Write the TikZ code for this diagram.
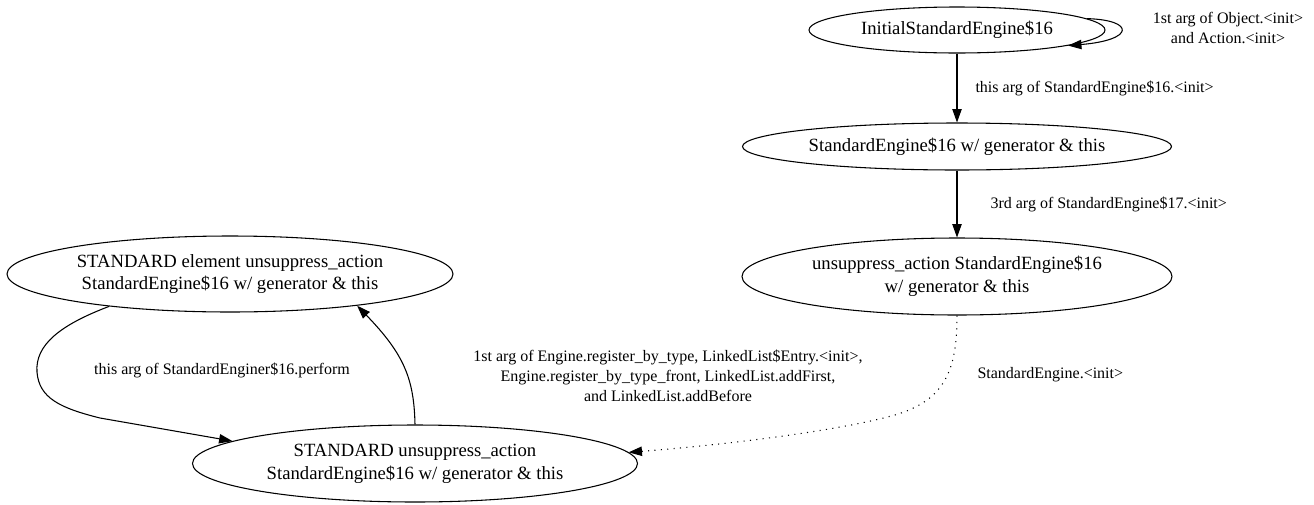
\documentclass[tikz,border=0pt]{standalone}
\usepackage{fontspec}
\setmainfont{Liberation Serif}
\usetikzlibrary{shapes.geometric,arrows.meta}

\begin{document}
\begin{tikzpicture}[x=0.75pt,y=-0.75pt,line width=0.8pt,>={Triangle[length=10pt,width=7pt]}]
	\tikzstyle{every node}+=[inner sep=0pt]
	\tikzstyle{state}=[draw,ellipse,align=center,font=\fontsize{14}{17}\selectfont]
	\tikzstyle{edgelabel}=[align=center,font=\fontsize{12}{15}\selectfont]
	\useasboundingbox (0,0) rectangle (1314,504);
	% states
	\node [state,minimum width=222pt,minimum height=34.5pt] (init) at (957,30) {InitialStandardEngine\$16};
	\node [state,minimum width=321.75pt,minimum height=35.25pt] (gen) at (957,146.5) {StandardEngine\$16 w/ generator \& this};
	\node [state,minimum width=322.5pt,minimum height=57.75pt] (act) at (957,276.5) {unsuppress\_action StandardEngine\$16\\w/ generator \& this};
	\node [state,minimum width=334.5pt,minimum height=57pt] (elem) at (230,274) {STANDARD element unsuppress\_action\\StandardEngine\$16 w/ generator \& this};
	\node [state,minimum width=333.75pt,minimum height=57.75pt] (std) at (415,463.5) {STANDARD unsuppress\_action\\StandardEngine\$16 w/ generator \& this};
	% edges
	\draw [->] (init.5) .. controls (1135,20) and (1135,40) .. (init.-8);
	\draw [->] (init) -- (gen);
	\draw [->] (gen) -- (act);
	\draw [->,dash pattern=on 0.8pt off 4pt] (act.south) .. controls +(0,55) and +(50,-15) .. (895,415) .. controls +(-65,18) and +(78,-6) .. (std.3.7);
	\draw [->] (elem.195) .. controls (60,325) and (35,345) .. (37,372) .. controls (39,398) and (60,408) .. (100,418) -- (std.173.5);
	\draw [->] (std.north) .. controls (414,380) and (405,355) .. (elem.-14.5);
	% labels
	\node [edgelabel] (lloop) at (1228,28) {1st arg of Object.<init>\\and Action.<init>};
	\node [edgelabel,anchor=west] (lgen) at (975,88) {this arg of StandardEngine\$16.<init>};
	\node [edgelabel,anchor=west] (lact) at (990,204) {3rd arg of StandardEngine\$17.<init>};
	\node [edgelabel,anchor=west] (lctor) at (977,375) {StandardEngine.<init>};
	\node [edgelabel] (lreg) at (668,376) {1st arg of Engine.register\_by\_type, LinkedList\$Entry.<init>,\\Engine.register\_by\_type\_front, LinkedList.addFirst,\\and LinkedList.addBefore};
	\node [edgelabel] (lperf) at (222,370) {this arg of StandardEnginer\$16.perform};
\end{tikzpicture}
\end{document}
